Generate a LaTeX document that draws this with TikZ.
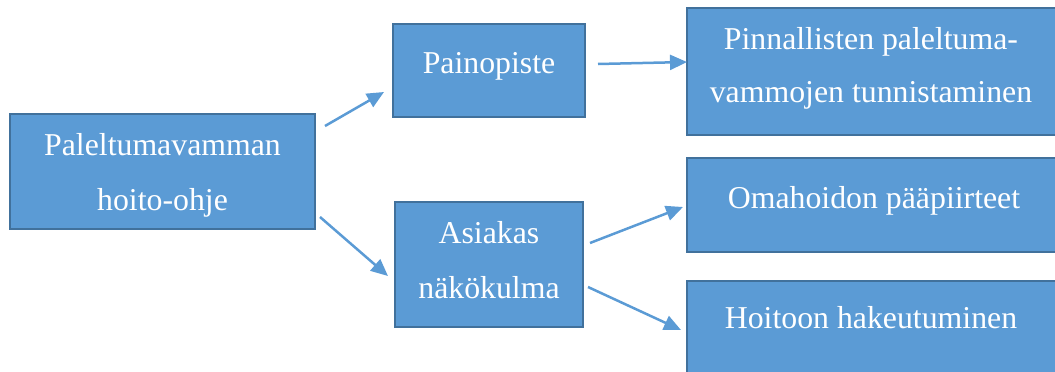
\documentclass[tikz,border=0pt]{standalone}
\usepackage{fontspec}
\setmainfont{Liberation Serif}
\usetikzlibrary{arrows.meta}
\definecolor{boxfill}{HTML}{5B9BD5}
\definecolor{boxline}{HTML}{41719C}
\begin{document}
\begin{tikzpicture}[x=1pt,y=-1pt,
 box/.style={draw=boxline, fill=boxfill, line width=2pt, inner sep=0pt},
 txt/.style={text=white, font=\fontsize{31.8}{55}\selectfont, align=center, inner sep=0pt, anchor=base},
 conn/.style={draw=boxfill, line width=2.5pt, -{Triangle[length=17pt,width=15pt]}}]
\useasboundingbox (0,0) rectangle (1055,372);
\node[box, minimum width=305pt, minimum height=115pt] (A) at (162.5,171.5) {};
\node[box, minimum width=192pt, minimum height=93pt] (B) at (489,70.5) {};
\node[box, minimum width=373pt, minimum height=127pt] (C) at (873.5,71.5) {};
\node[box, minimum width=188pt, minimum height=125pt] (D) at (489,264.5) {};
\node[box, minimum width=373pt, minimum height=94pt] (E) at (873.5,205) {};
\node[box, minimum width=373pt, minimum height=99pt] (F) at (873.5,330.5) {};
\node[txt] (At) at (162.5,210) {Paleltumavamman\\hoito-ohje};
\node[txt] (Bt) at (489,73) {Painopiste};
\node[txt, font=\fontsize{31.8}{53}\selectfont] (Ct) at (871,102) {Pinnallisten paleltuma-\\vammojen tunnistaminen};
\node[txt] (Dt) at (489,298) {Asiakas\\näkökulma};
\node[txt] (Et) at (874,208) {Omahoidon pääpiirteet};
\node[txt] (Ft) at (871,328) {Hoitoon hakeutuminen};
\coordinate (a1s) at (325,126); \coordinate (a1e) at (384,92);
\coordinate (a2s) at (320,217); \coordinate (a2e) at (388,276);
\coordinate (a3s) at (598,64);  \coordinate (a3e) at (687,62);
\coordinate (a4s) at (590,243); \coordinate (a4e) at (683,207);
\coordinate (a5s) at (588,287); \coordinate (a5e) at (681,330);
\draw[conn] (a1s) -- (a1e);
\draw[conn] (a2s) -- (a2e);
\draw[conn] (a3s) -- (a3e);
\draw[conn] (a4s) -- (a4e);
\draw[conn] (a5s) -- (a5e);
\end{tikzpicture}
\end{document}
